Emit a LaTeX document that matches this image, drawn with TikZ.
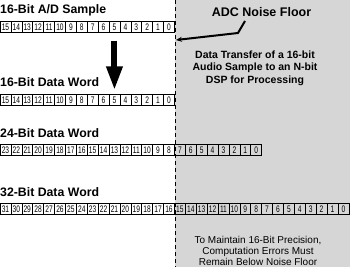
\documentclass[tikz,border=0pt]{standalone}
\usepackage{fontspec}
\setmainfont{Liberation Sans}
\usepackage{graphicx}
\usetikzlibrary{arrows.meta}
\definecolor{floorgray}{RGB}{214,214,214}
\begin{document}
\begin{tikzpicture}[x=1pt,y=-1pt,
  cell/.style={draw=black, line width=0.6pt, minimum width=10.9pt, minimum height=10.5pt, inner sep=0pt, font=\fontsize{9.5}{9.5}\selectfont},
  rowlabel/.style={anchor=base west, inner sep=0pt, font=\bfseries\fontsize{12.3}{12.3}\selectfont},
  floorline/.style={draw=black, line width=0.8pt, dash pattern=on 4pt off 3pt},
  bigarrow/.style={line width=6pt, -{Triangle[width=15pt,length=24pt]}},
  pointer/.style={draw=black, line width=2pt, -{Stealth[length=6pt,width=5pt]}},
  note/.style={align=center, inner sep=0pt}]
\useasboundingbox (0,0) rectangle (350,267);
% noise floor region
\fill[floorgray] (175,0) rectangle (350,267);
\coordinate (ftop) at (175,0);
\coordinate (fbot) at (175,267);
\draw[floorline] (ftop) -- (fbot);
% row labels
\node[rowlabel] (la) at (0,14) {16-Bit A/D Sample};
\node[rowlabel] (lb) at (0,87) {16-Bit Data Word};
\node[rowlabel] (lc) at (0,137) {24-Bit Data Word};
\node[rowlabel] (ld) at (0,196) {32-Bit Data Word};
% cells
\foreach \k in {0,...,15} \node[cell] (a\k) at ({(15-\k)*10.9+5.45},27) {\scalebox{0.7}[1]{\k}};
\foreach \k in {0,...,15} \node[cell] (b\k) at ({(15-\k)*10.9+5.45},100) {\scalebox{0.7}[1]{\k}};
\foreach \k in {0,...,23} \node[cell] (c\k) at ({(23-\k)*10.9+5.45},150) {\scalebox{0.7}[1]{\k}};
\foreach \k in {0,...,31} \node[cell] (d\k) at ({(31-\k)*10.9+5.45},209) {\scalebox{0.7}[1]{\k}};
% transfer arrow
\draw[bigarrow] ([yshift=-8pt]a5.south) -- ([yshift=4pt]b5.north);
% ADC noise floor
\node[anchor=base, inner sep=0pt, font=\bfseries\fontsize{12.5}{12.5}\selectfont] (adc) at (261.5,17) {ADC Noise Floor};
\coordinate (pstart) at (245,21);
\coordinate (pbend) at (238,33);
\coordinate (pend) at (176,40);
\draw[pointer] (pstart) -- (pbend) -- (pend);
% notes
\node[note, font=\bfseries\fontsize{10.5}{12.5}\selectfont] (xfer) at (255,68) {Data Transfer of a 16-bit\\Audio Sample to an N-bit\\DSP for Processing};
\node[note, font=\fontsize{10}{11}\selectfont] (keep) at (258,251) {To Maintain 16-Bit Precision,\\Computation Errors Must\\Remain Below Noise Floor};
\end{tikzpicture}
\end{document}
